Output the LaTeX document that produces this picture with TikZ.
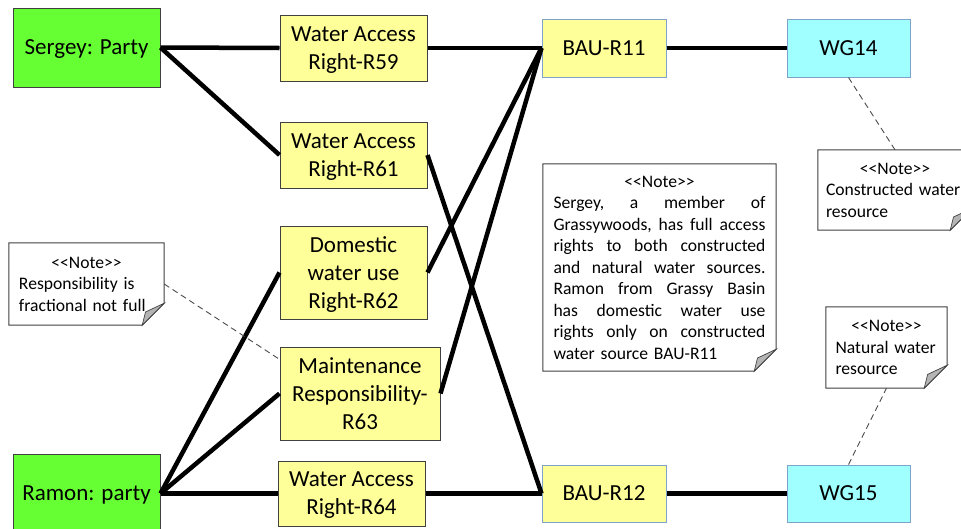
\documentclass[tikz,border=0pt]{standalone}
\usepackage{fontspec}
\setmainfont{Carlito}
\usetikzlibrary{calc}
\definecolor{partyg}{HTML}{66FF33}
\definecolor{ryel}{HTML}{FFFF99}
\definecolor{wgcyan}{HTML}{A0FFFF}
\definecolor{bdark}{HTML}{404040}
\definecolor{bblue}{HTML}{7FA3C8}
\definecolor{foldg}{HTML}{B4B4B4}
\newcommand\notehead{<\kern0pt<Note>\kern0pt>}
\newcommand\foldnote[2]{%
  \draw[line width=1pt, draw=bdark] (#1.north west) -- (#1.north east) -- ($(#1.south east)+(0,-#2)$) -- ($(#1.south east)+(-#2,0)$) -- (#1.south west) -- cycle;
  \filldraw[fill=foldg, draw=bdark, line width=0.7pt] ($(#1.south east)+(0,-#2)$) .. controls ($(#1.south east)+(-0.45*#2,-0.8*#2)$) .. ($(#1.south east)+(-0.85*#2,-0.6*#2)$) -- ($(#1.south east)+(-#2,0)$) -- cycle;
}
\tikzset{
  base/.style={draw, line width=1pt, align=center, inner sep=0pt, text depth=0pt, font=\fontsize{23}{28}\selectfont},
  party/.style={base, fill=partyg, draw=bdark},
  rbox/.style={base, fill=ryel, draw=bdark},
  bau/.style={base, fill=ryel, draw=bblue},
  wg/.style={base, fill=wgcyan, draw=bblue},
  link/.style={line width=4.5pt, black},
  dlink/.style={draw=black!70, line width=0.9pt, dash pattern=on 6pt off 4pt},
  notebox/.style={inner sep=0pt, align=left, font=\fontsize{17.6}{21.5}\selectfont},
}
\begin{document}
\begin{tikzpicture}[x=1pt, y=-1pt]
\useasboundingbox (0,0) rectangle (961,528);
\fill[white] (0,0) rectangle (961,528);

% parties
\node[party, minimum width=147pt, minimum height=79pt] (serg) at (86.5,47.5) {Sergey: Party};
\node[party, minimum width=147pt, minimum height=79pt] (ramon) at (86.5,493.5) {Ramon: party};

% rights
\node[rbox, minimum width=147pt, minimum height=66pt] (r59) at (353.5,48) {Water Access\\Right-R59};
\node[rbox, minimum width=147pt, minimum height=66pt] (r61) at (353.5,155) {Water Access\\Right-R61};
\node[rbox, minimum width=147pt, minimum height=93pt] (r62) at (353.5,272.5) {Domestic\\water use\\Right-R62};
\node[rbox, minimum width=160pt, minimum height=93pt] (r63) at (360,393.5) {Maintenance\\Responsibility-\\R63};
\node[rbox, minimum width=147pt, minimum height=65pt] (r64) at (351.5,493.5) {Water Access\\Right-R64};

% BAU and WG
\node[bau, minimum width=124pt, minimum height=58pt] (bau11) at (604,48) {BAU-R11};
\node[bau, minimum width=124pt, minimum height=57pt] (bau12) at (604,493.5) {BAU-R12};
\node[wg, minimum width=123pt, minimum height=58pt] (wg14) at (848.5,48) {WG14};
\node[wg, minimum width=123pt, minimum height=57pt] (wg15) at (848.5,493.5) {WG15};

% connectors
\draw[link] (serg.east) -- (r59.west);
\draw[link] (serg.east) -- (r61.west);
\draw[link] (r59.east) -- (bau11.west);
\draw[link] (r61.east) -- (bau12.west);
\draw[link] (r62.east) -- (bau11.west);
\draw[link] (r63.east) -- (bau11.west);
\draw[link] (ramon.east) -- (r62.west);
\draw[link] (ramon.east) -- (r63.west);
\draw[link] (ramon.east) -- (r64.west);
\draw[link] (r64.east) -- (bau12.west);
\draw[link] (bau11.east) -- (wg14.west);
\draw[link] (bau12.east) -- (wg15.west);

% notes
\node[notebox, minimum width=155pt, minimum height=82pt, text width=135pt] (nresp) at (86.5,284)
  {\makebox[135pt]{\notehead}\\Responsibility is\\fractional not full};
\foldnote{nresp}{22}

\node[notebox, minimum width=233pt, minimum height=207pt, text width=212pt] (nbig) at (659.5,267.5)
  {\makebox[212pt]{\notehead}\\
   \makebox[212pt][s]{Sergey,\hfill a\hfill member\hfill of}\\
   \makebox[212pt][s]{Grassywoods,\hfill has\hfill full\hfill access}\\
   \makebox[212pt][s]{rights\hfill to\hfill both\hfill constructed}\\
   \makebox[212pt][s]{and\hfill natural\hfill water\hfill sources.}\\
   \makebox[212pt][s]{Ramon\hfill from\hfill Grassy\hfill Basin}\\
   \makebox[212pt][s]{has\hfill domestic\hfill water\hfill use}\\
   \makebox[212pt][s]{rights\hfill only\hfill on\hfill constructed}\\
   water source BAU-R11};
\foldnote{nbig}{22}

\node[notebox, minimum width=154pt, minimum height=80pt, text width=138pt] (ncons) at (895,190)
  {\makebox[138pt]{\notehead}\\Constructed water\\resource};
\foldnote{ncons}{22}

\node[notebox, minimum width=121pt, minimum height=81pt, text width=102pt] (nnat) at (886.5,347.5)
  {\makebox[102pt]{\notehead}\\Natural water\\resource};
\foldnote{nnat}{23}

% dashed note links
\draw[dlink] (wg14.south) -- (ncons.north);
\draw[dlink] (wg15.north) -- (nnat.south);
\draw[dlink] (nresp.east) -- (r63.157);
\end{tikzpicture}
\end{document}
